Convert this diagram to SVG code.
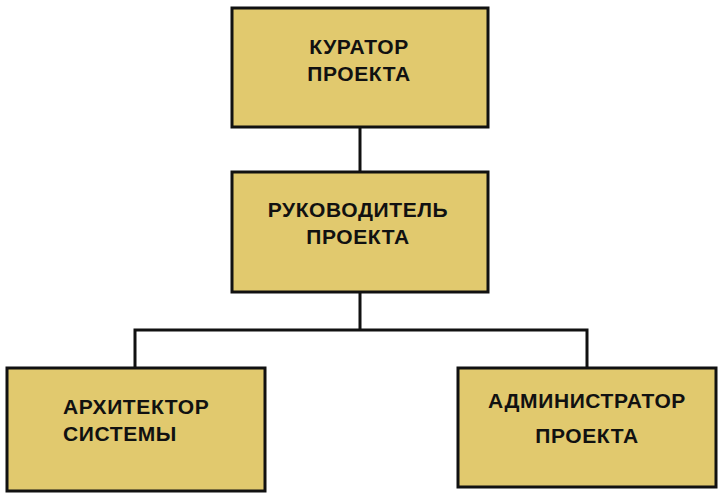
<svg xmlns="http://www.w3.org/2000/svg" width="722" height="496" viewBox="0 0 722 496">
<style>
.box{fill:#E1C96E;stroke:#111;stroke-width:3}
.lbl{font-family:"Liberation Sans",Arial,sans-serif;font-weight:bold;font-size:21px;letter-spacing:0.6px;fill:#111}
.c{text-anchor:middle}
.conn{fill:none;stroke:#111;stroke-width:3}
</style>
<rect width="722" height="496" fill="#fff"/>
<g id="connectors">
<line class="conn" x1="360" y1="128" x2="360" y2="171"/>
<path class="conn" d="M360 292 V330 M135 330 H587 M135 328.5 V368 M587 328.5 V368"/>
</g>
<g id="curator">
<rect class="box" x="232" y="8" width="256" height="119"/>
<text class="lbl c" x="359" y="54">КУРАТОР</text>
<text class="lbl c" x="359" y="81">ПРОЕКТА</text>
</g>
<g id="manager">
<rect class="box" x="232" y="172" width="256" height="120"/>
<text class="lbl c" x="358" y="217">РУКОВОДИТЕЛЬ</text>
<text class="lbl c" x="358" y="244">ПРОЕКТА</text>
</g>
<g id="architect">
<rect class="box" x="7" y="368" width="258" height="123"/>
<text class="lbl" x="63" y="414">АРХИТЕКТОР</text>
<text class="lbl" x="63" y="441">СИСТЕМЫ</text>
</g>
<g id="admin">
<rect class="box" x="458" y="368" width="258" height="119"/>
<text class="lbl c" x="587" y="408">АДМИНИСТРАТОР</text>
<text class="lbl c" x="587" y="443">ПРОЕКТА</text>
</g>
</svg>
